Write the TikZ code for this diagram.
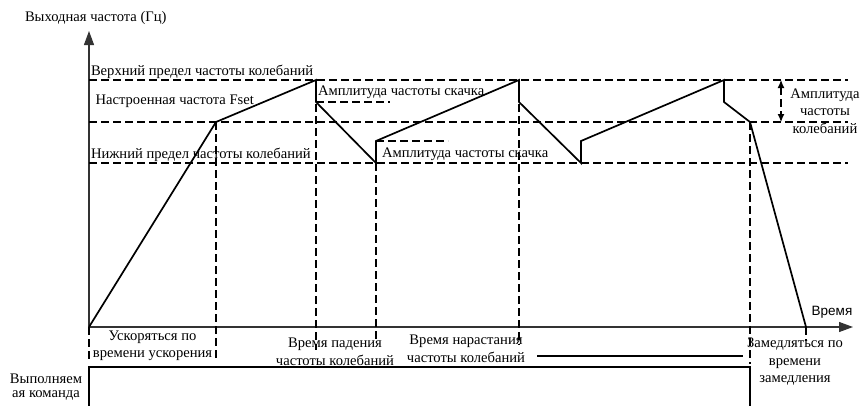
\documentclass[tikz,border=0pt]{standalone}
\usepackage{fontspec}
\setmainfont{Liberation Serif}
\setsansfont{Liberation Sans}
\usetikzlibrary{arrows.meta}
\begin{document}
\begin{tikzpicture}[x=1pt,y=-1pt,
  lbl/.style={font=\fontsize{14.6}{17.5}\selectfont, inner sep=0pt, outer sep=0pt},
  lblc/.style={lbl, align=center},
  dsh/.style={dash pattern=on 8pt off 4pt, line width=1.1pt},
  curve/.style={line width=1.7pt, line join=miter},
  axis/.style={line width=1.1pt, draw=black!80, -{Triangle[length=14pt,width=10pt]}},
  amp/.style={dsh, {Latex[length=8pt,width=7pt]}-{Latex[length=8pt,width=7pt]}},
  box/.style={line width=1.5pt},
  thin/.style={line width=1.1pt}
]
\useasboundingbox (0,0) rectangle (862,405);

% axes
\coordinate (O) at (89,327);
\coordinate (Ytop) at (89,31);
\coordinate (Xend) at (853,327);
\draw[axis] (O) -- (Ytop);
\draw[axis] (O) -- (Xend);

% curve points
\coordinate (p1) at (216,122);
\coordinate (p2) at (316,80);
\coordinate (p3) at (316,102);
\coordinate (p4) at (376,163);
\coordinate (p5) at (376,141);
\coordinate (p6) at (519,80);
\coordinate (p7) at (519,102);
\coordinate (p8) at (581,163);
\coordinate (p9) at (581,141);
\coordinate (p10) at (724,80);
\coordinate (p11) at (724,102);
\coordinate (p12) at (750,122);
\coordinate (p13) at (806,327);

% horizontal dashed levels
\coordinate (hu0) at (89,80);  \coordinate (hu1) at (848,80);
\coordinate (hs0) at (89,122); \coordinate (hs1) at (848,122);
\coordinate (hl0) at (89,163); \coordinate (hl1) at (848,163);
\draw[dsh] (hu0) -- (hu1);
\draw[dsh] (hs0) -- (hs1);
\draw[dsh] (hl0) -- (hl1);

% vertical dashed lines
\coordinate (v0) at (89,360);
\coordinate (v1) at (216,360);
\coordinate (v2) at (316,350);
\coordinate (v4) at (376,340);
\coordinate (v6) at (519,345);
\coordinate (v12) at (750,364);
\coordinate (v13) at (806,341);
\draw[dsh] (O) -- (v0);
\draw[dsh] (p1) -- (v1);
\draw[dsh] (p2) -- (v2);
\draw[dsh] (p4) -- (v4);
\draw[dsh] (p6) -- (v6);
\draw[dsh] (p12) -- (v12);
\draw[dsh] (p13) -- (v13);

% short dashed jump marks
\coordinate (j1) at (390,102);
\coordinate (j2) at (448,141);
\draw[dsh] (p3) -- (j1);
\draw[dsh] (p5) -- (j2);

% the frequency curve
\draw[curve] (O) -- (p1) -- (p2) -- (p3) -- (p4) -- (p5) -- (p6) -- (p7) -- (p8) -- (p9) -- (p10) -- (p11) -- (p12) -- (p13);

% amplitude arrow
\coordinate (a1) at (781,80);
\coordinate (a2) at (781,122);
\draw[amp] (a1) -- (a2);

% labels
\node[lbl, anchor=base west] (ylab) at (25,21.5) {Выходная частота (Гц)};
\node[font=\sffamily\fontsize{13.5}{15}\selectfont, inner sep=0pt] (xlab) at (832,312) {Время};
\node[lbl, anchor=base west] (lu) at (91,75) {Верхний предел частоты колебаний};
\node[lbl, anchor=base west] (ls) at (95.5,104) {Настроенная частота Fset};
\node[lbl, anchor=base west] (ll) at (91,158) {Нижний предел частоты колебаний};
\node[lbl, anchor=base west] (ja) at (318,95) {Амплитуда частоты скачка};
\node[lbl, anchor=base west] (jb) at (382,157) {Амплитуда частоты скачка};
\node[lblc] (ampl) at (825,111) {Амплитуда\\частоты\\колебаний};

\node[lblc] (acc) at (152.5,346) {Ускоряться по\\времени ускорения};
\node[lblc] (fall) at (335,352) {Время падения\\частоты колебаний};
\node[lblc] (rise) at (466,349) {Время нарастания\\частоты колебаний};
\node[lblc] (dec) at (795,362) {Замедляться по\\времени\\замедления};
\node[lbl, align=center, font=\fontsize{14.6}{14}\selectfont] (cmd) at (46,387) {Выполняем\\ая команда};

% line after rise label
\coordinate (r0) at (537,356);
\coordinate (r1) at (743,356);
\draw[thin] (r0) -- (r1);

% run command box
\coordinate (b0) at (89,406);
\coordinate (b1) at (89,367);
\coordinate (b2) at (750,367);
\coordinate (b3) at (750,406);
\draw[box] (b0) -- (b1) -- (b2) -- (b3);
\end{tikzpicture}
\end{document}
